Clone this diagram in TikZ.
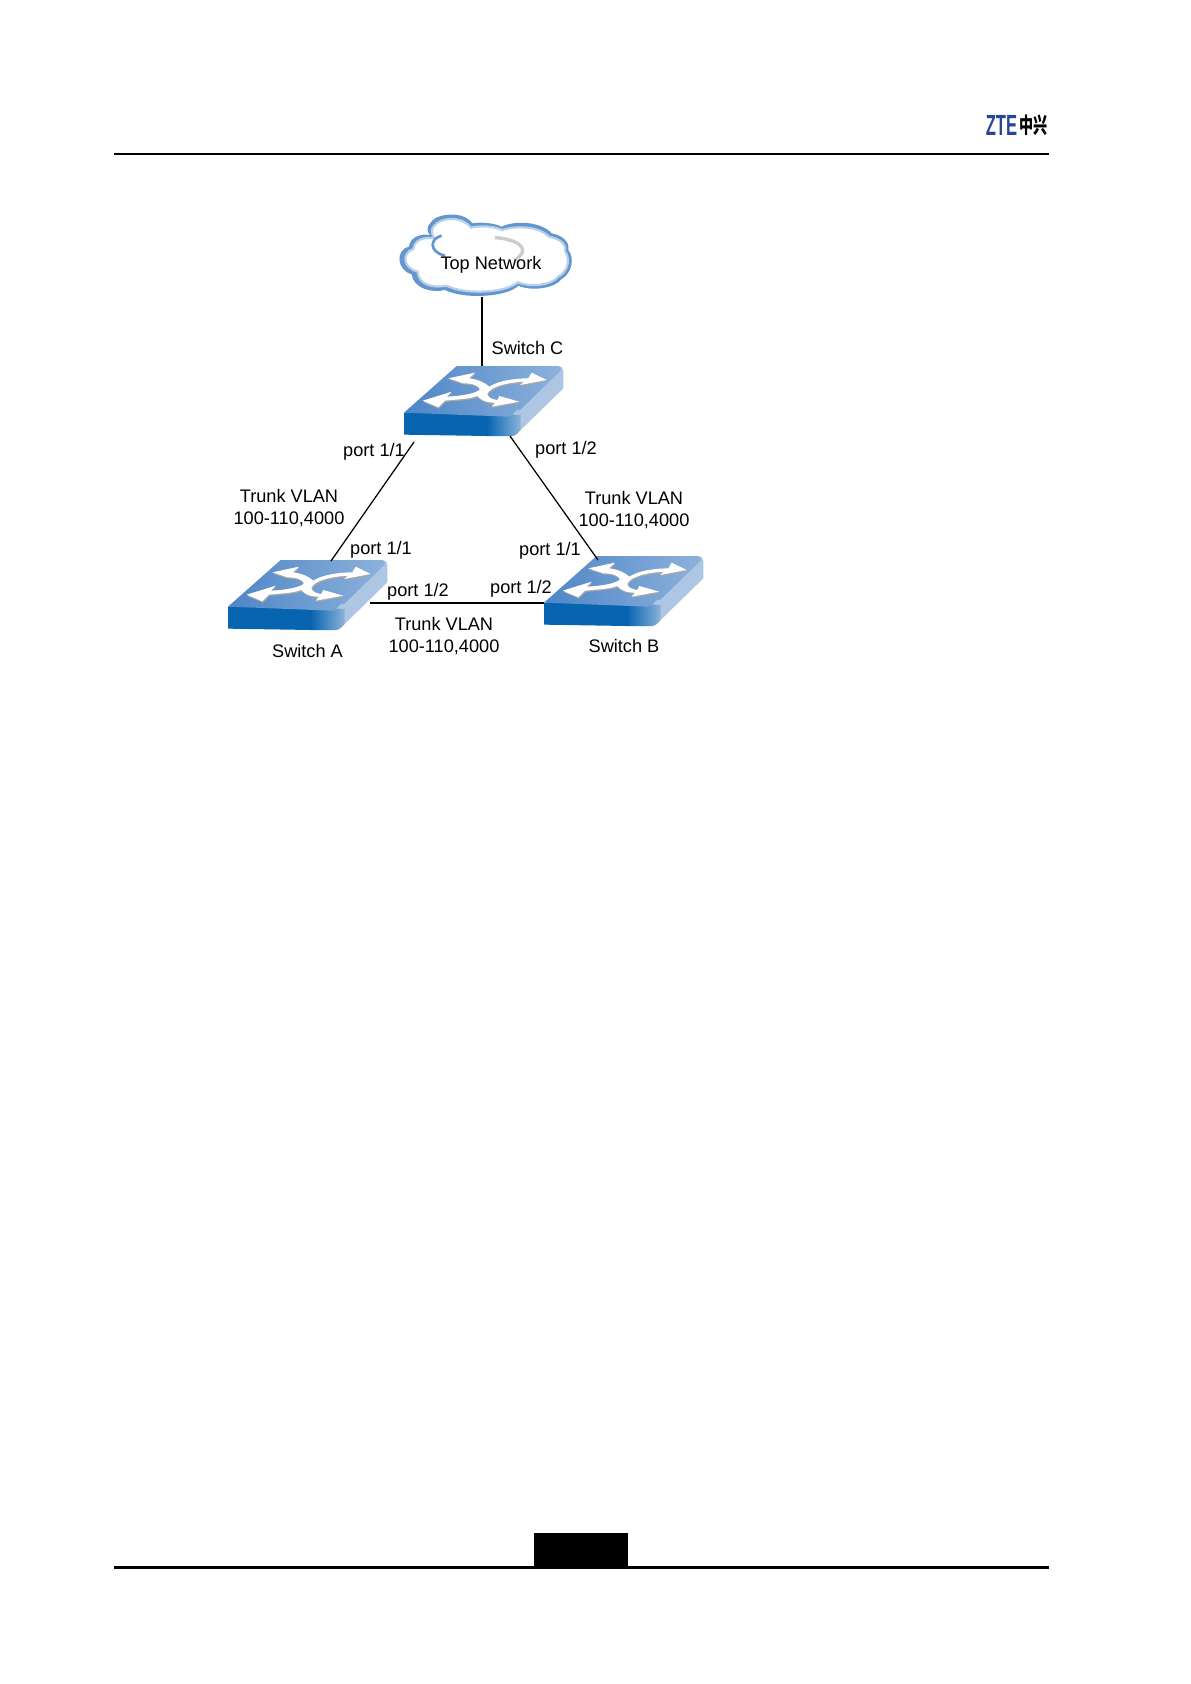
\documentclass[tikz,border=0pt]{standalone}
\usepackage{graphicx,xcolor}
\usepackage{fontspec}
\setmainfont{Liberation Sans}
\newfontfamily\cjkfont{Noto Sans CJK SC}
\usetikzlibrary{positioning, calc}
\definecolor{sw_front}{RGB}{6, 100, 176}
\definecolor{sw_topl}{RGB}{78, 134, 198}
\definecolor{sw_topr}{RGB}{128, 168, 216}
\definecolor{sw_side}{RGB}{172, 198, 228}
\definecolor{cloud_blue}{RGB}{98, 150, 205}
\definecolor{zte_blue}{RGB}{38, 70, 150}
\tikzset{
  lnk/.style={draw=black, line width=.75pt},
  lbl/.style={font=\fontsize{10.9}{13.2}\selectfont, align=center, inner sep=0pt},
  rule/.style={draw=black, line width=1.2pt},
  pics/switch/.style={code={
    \begin{scope}[scale=.3333]
      % body: side, front, top
      \fill[sw_side] (170,18) -- (475,18) to[out=0,in=90] (490,32) -- (490,85) -- (360,212) to[out=135,in=0] (335,228) -- (300,228) -- (300,150) -- cycle;
      \fill[sw_front] (12,158) -- (12,224) -- (262,228) -- (262,160) -- cycle;
      \shade[left color=sw_front, right color=sw_side!80!sw_front] (260,160) -- (260,228) -- (335,228) to[out=0,in=-135] (362,210) -- (362,165) -- cycle;
      \shade[left color=sw_topl, right color=sw_topr!70!sw_side] (12,158) -- (170,18) -- (475,18) to[out=0,in=60] (482,32) -- (360,150) to[out=135,in=0] (325,170) -- cycle;
      % arrows
      \fill[black!35, shift={(2,4)}]
        (145,55) -- (225,38) -- (207,55) .. controls (235,58) and (255,68) .. (268,80)
        .. controls (295,62) and (345,55) .. (385,55) -- (395,38) -- (440,60) -- (360,75) -- (372,65)
        .. controls (320,68) and (270,80) .. (262,102) .. controls (265,115) and (280,118) .. (292,120)
        -- (298,108) -- (358,125) -- (275,140) -- (285,128) .. controls (255,128) and (240,118) .. (232,108)
        .. controls (205,118) and (170,118) .. (135,122) -- (115,142) -- (68,122) -- (155,95) -- (140,110)
        .. controls (185,108) and (230,100) .. (240,88) .. controls (235,75) and (215,70) .. (190,70) -- cycle;
      \fill[white]
        (145,55) -- (225,38) -- (207,55) .. controls (235,58) and (255,68) .. (268,80)
        .. controls (295,62) and (345,55) .. (385,55) -- (395,38) -- (440,60) -- (360,75) -- (372,65)
        .. controls (320,68) and (270,80) .. (262,102) .. controls (265,115) and (280,118) .. (292,120)
        -- (298,108) -- (358,125) -- (275,140) -- (285,128) .. controls (255,128) and (240,118) .. (232,108)
        .. controls (205,118) and (170,118) .. (135,122) -- (115,142) -- (68,122) -- (155,95) -- (140,110)
        .. controls (185,108) and (230,100) .. (240,88) .. controls (235,75) and (215,70) .. (190,70) -- cycle;
    \end{scope}
    \coordinate (-top) at (82,6);
    \coordinate (-sw) at (14,82);
    \coordinate (-se) at (110,76);
    \coordinate (-ne) at (107,7);
    \coordinate (-nw) at (58,10);
    \coordinate (-east) at (146,49);
    \coordinate (-west) at (4,53);
  }}
}
\begin{document}
\begin{tikzpicture}[x=.6pt, y=-.6pt]
  \useasboundingbox (0,0) rectangle (1191,1684);
  % header and footer
  \coordinate (hl) at (114,153.5);
  \coordinate (hr) at (1049,153.5);
  \coordinate (fl) at (114,1567);
  \coordinate (fr) at (1049,1567);
  \draw[rule] (hl) -- (hr);
  \draw[rule, line width=1.8pt] (fl) -- (fr);
  \fill[black] (534,1533) rectangle (628,1567);
  \node[inner sep=0pt, text=zte_blue, font=\fontsize{17.5}{17.5}\selectfont\bfseries] (zte) at (1001.5,125) {\scalebox{.57}[1]{ZTE}};
  \node[inner sep=0pt, font=\fontsize{13}{13}\cjkfont\bfseries] (zx) at (1033.5,125) {\scalebox{.65}[1]{中兴}};
  % cloud
  \begin{scope}[shift={(395,205)}, scale=.3333]
    \fill[cloud_blue] (105,55) .. controls (120,25) and (205,15) .. (232,55)
      .. controls (260,50) and (300,55) .. (320,65) .. controls (360,45) and (440,50) .. (470,85)
      .. controls (500,90) and (525,110) .. (520,135) .. controls (540,160) and (530,205) .. (500,222)
      .. controls (480,250) and (410,260) .. (370,242) .. controls (340,275) and (210,285) .. (150,255)
      .. controls (110,265) and (55,250) .. (50,208) .. controls (5,195) and (0,135) .. (42,125)
      .. controls (45,95) and (80,85) .. (105,90) .. controls (95,80) and (95,65) .. (105,55) -- cycle;
    \draw[cloud_blue!45, line width=1.3pt, fill=white] (118,62) .. controls (135,38) and (200,30) .. (228,68)
      .. controls (260,60) and (300,65) .. (322,75) .. controls (360,62) and (430,62) .. (462,95)
      .. controls (490,100) and (515,115) .. (510,138) .. controls (528,165) and (518,200) .. (490,215)
      .. controls (470,240) and (410,248) .. (368,232) .. controls (335,262) and (215,272) .. (155,242)
      .. controls (115,250) and (70,240) .. (68,200) .. controls (25,190) and (18,145) .. (55,132)
      .. controls (58,105) and (85,95) .. (118,100) .. controls (108,85) and (108,72) .. (118,62) -- cycle;
    \draw[cloud_blue, line width=1.6pt] (140,92) .. controls (105,100) and (100,140) .. (150,152);
    \draw[black!20, line width=2pt] (300,98) .. controls (350,100) and (420,125) .. (360,165);
  \end{scope}
  \coordinate (cld) at (482,297);
  \pic (swC) at (400,360) {switch};
  \pic (swA) at (224,554) {switch};
  \pic (swB) at (540,550) {switch};
  \draw[lnk] (cld) -- (swC-top);
  \draw[lnk] (swC-sw) -- (swA-ne);
  \draw[lnk] (swC-se) -- (swB-nw);
  \draw[lnk] (swA-east) -- (swB-west);
  \node[lbl] (top) at (491,265) {Top Network};
  \node[lbl] (c) at (527.5,348) {Switch C};
  \node[lbl] (a) at (307.5,651) {Switch A};
  \node[lbl] (b) at (624,646) {Switch B};
  \node[lbl] (p1) at (374,452) {port 1/1};
  \node[lbl] (p2) at (566,450) {port 1/2};
  \node[lbl] (p3) at (381,550) {port 1/1};
  \node[lbl] (p4) at (550,551) {port 1/1};
  \node[lbl] (p5) at (418,591.5) {port 1/2};
  \node[lbl] (p6) at (521,588.5) {port 1/2};
  \node[lbl] (t1) at (289,508) {Trunk VLAN\\ 100-110,4000};
  \node[lbl] (t2) at (634,510) {Trunk VLAN\\ 100-110,4000};
  \node[lbl] (t3) at (444,636) {Trunk VLAN\\ 100-110,4000};
\end{tikzpicture}
\end{document}
